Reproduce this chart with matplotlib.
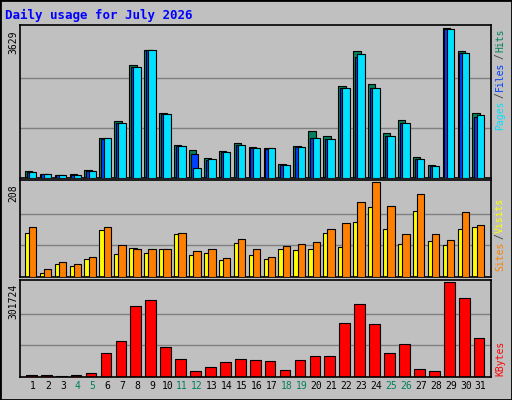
import matplotlib.pyplot as plt
import numpy as np
from matplotlib.patches import Rectangle

days = np.arange(1, 32)
hits = [181, 107, 82, 107, 205, 969, 1371, 2718, 3087, 1560, 797, 673, 484, 649, 846,
        747, 722, 328, 772, 1141, 1018, 2225, 3062, 2275, 1092, 1396, 501, 304, 3629, 3062, 1560]
files = [156, 107, 82, 82, 181, 950, 1320, 2669, 3087, 1535, 772, 575, 440, 624, 790,
         722, 700, 304, 740, 969, 944, 2176, 2930, 2176, 1018, 1320, 452, 279, 3604, 3013, 1470]
pages = [156, 107, 82, 82, 181, 969, 1338, 2669, 3087, 1535, 772, 230, 452, 624, 796,
         722, 722, 304, 747, 969, 944, 2176, 2989, 2176, 1018, 1338, 452, 279, 3604, 3013, 1510]
visits = [97, 9, 27, 23, 38, 102, 50, 63, 52, 61, 93, 47, 52, 36, 75,
          47, 38, 61, 59, 61, 97, 66, 120, 154, 106, 72, 145, 79, 70, 106, 109]
sites = [109, 16, 32, 27, 43, 109, 70, 61, 61, 61, 97, 57, 61, 41, 84,
         61, 43, 68, 72, 77, 104, 118, 165, 208, 156, 95, 183, 95, 81, 142, 113]
kbytes = [7700, 7700, 4400, 7700, 14000, 77000, 113000, 226000, 246000, 94000, 57000, 18000,
          31000, 47000, 57000, 54000, 51000, 21000, 54000, 67000, 67000, 173000, 232000,
          170000, 77000, 104000, 24000, 18000, 301724, 252000, 123000]
weekend = [4, 5, 11, 12, 18, 19, 25, 26]

BG = '#c0c0c0'
GREEN = '#00805c'
MONO = 'DejaVu Sans Mono'
W, H = 512, 400

fig = plt.figure(figsize=(W / 100, H / 100), dpi=100, facecolor=BG)
fig.patches.append(Rectangle((0, 0), 1, 1, transform=fig.transFigure, fill=False,
                             edgecolor='black', linewidth=2))


def panel(top, bottom):
    ax = fig.add_axes([20 / W, 1 - bottom / H, 470.7 / W, (bottom - top) / H])
    ax.set_facecolor(BG)
    ax.set_xlim(0.13, 31.67)
    ax.set_xticks([])
    ax.set_yticks([])
    for s in ax.spines.values():
        s.set_linewidth(1.2)
    return ax


def grid(ax, vmax):
    ax.set_ylim(0, vmax * 1.02)
    for f in (1 / 3, 2 / 3):
        ax.axhline(vmax * f, color='#808080', linewidth=1, zorder=0)


def side_label(ytop, parts):
    # rotated words stacked from the top down, with a gap between them
    y = ytop
    for txt, col in parts:
        fig.text(500 / W, 1 - y / H, txt, color=col, rotation=90, ha='center', va='top',
                 family=MONO, fontsize=7)
        y += len(txt) * 5.4 + 3


ax1 = panel(24.7, 178)
grid(ax1, max(hits))
ax1.bar(days - 0.55, hits, width=0.5, align='edge', color=GREEN, edgecolor='black', lw=0.8, zorder=2)
ax1.bar(days - 0.43, files, width=0.5, align='edge', color='#0040ff', edgecolor='black', lw=0.8, zorder=3)
ax1.bar(days - 0.27, pages, width=0.5, align='edge', color='#00e0ff', edgecolor='black', lw=0.8, zorder=4)
fig.text(13 / W, 1 - 30 / H, str(max(hits)), rotation=90, ha='center', va='top', family=MONO, fontsize=7)
side_label(29, [('Hits', GREEN), ('/', '#404040'), ('Files', '#0040ff'),
                ('/', '#404040'), ('Pages', '#00e0ff')])

ax2 = panel(180.3, 276.7)
grid(ax2, max(sites))
ax2.bar(days - 0.55, visits, width=0.5, align='edge', color='#ffff00', edgecolor='black', lw=0.8, zorder=2)
ax2.bar(days - 0.27, sites, width=0.5, align='edge', color='#ff8000', edgecolor='black', lw=0.8, zorder=3)
fig.text(13 / W, 1 - 184 / H, str(max(sites)), rotation=90, ha='center', va='top', family=MONO, fontsize=7)
side_label(198, [('Visits', '#ffff00'), ('/', '#404040'), ('Sites', '#ff8000')])

ax3 = panel(280.3, 377)
grid(ax3, max(kbytes))
ax3.bar(days - 0.47, kbytes, width=0.72, align='edge', color='#ff0000', edgecolor='black', lw=0.8, zorder=2)
fig.text(13 / W, 1 - 284 / H, str(max(kbytes)), rotation=90, ha='center', va='top', family=MONO, fontsize=7)
side_label(341, [('KBytes', '#ff0000')])

ax3.set_xticks(days)
ax3.set_xticklabels([str(d) for d in days], family=MONO, fontsize=7)
ax3.tick_params(axis='x', length=0, pad=3)
for d, lab in zip(days, ax3.get_xticklabels()):
    lab.set_color(GREEN if d in weekend else 'black')

fig.text(5 / W, 1 - 15 / H, 'Daily usage for July 2026', color='#0000ff', family=MONO,
         fontsize=9, fontweight='bold', va='center', ha='left')

fig.savefig('out.png', dpi=100, facecolor=BG)
